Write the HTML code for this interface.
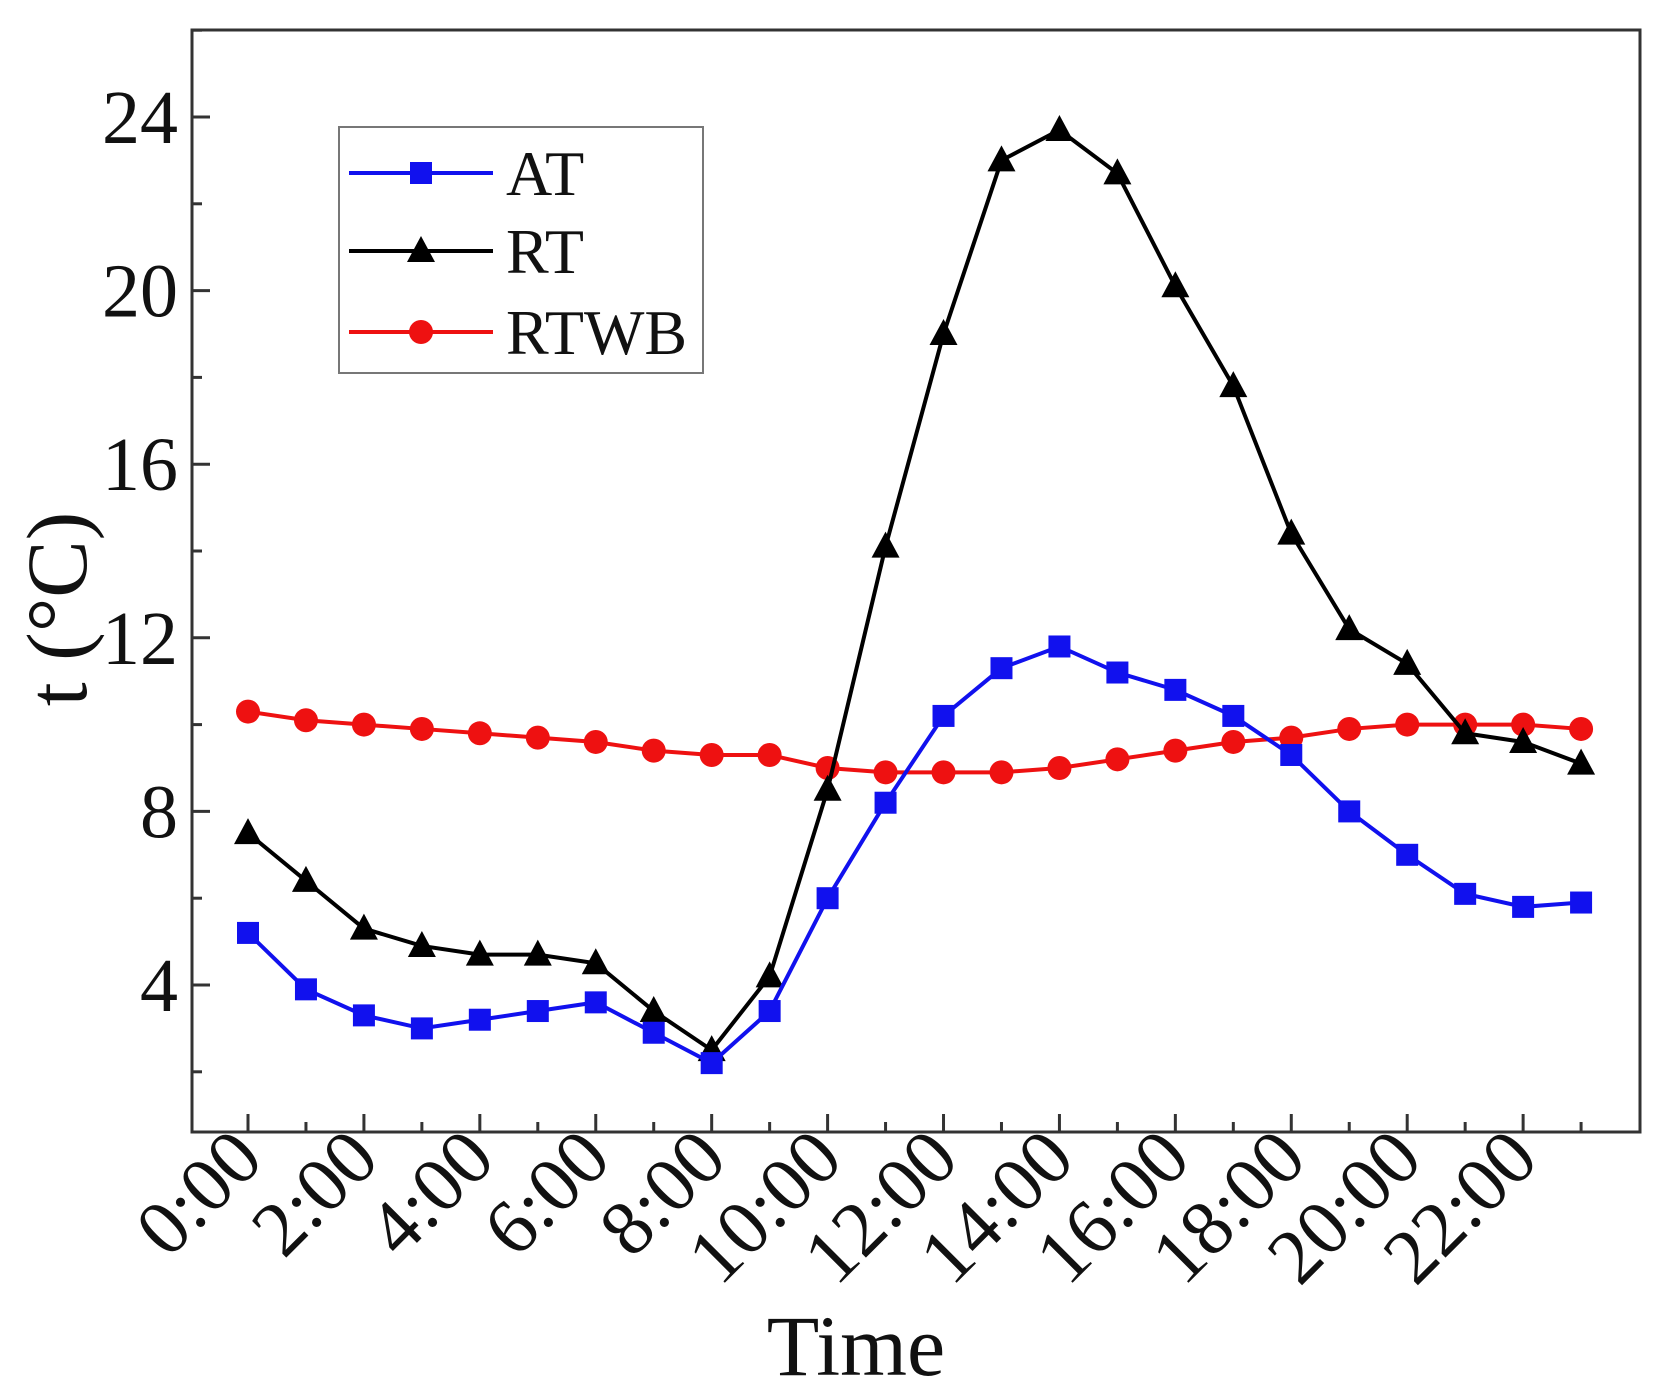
<!DOCTYPE html>
<html><head><meta charset="utf-8"><style>
html,body{margin:0;padding:0;background:#fff;}
svg{display:block;font-family:"Liberation Serif","Times New Roman",serif;}
</style></head><body>
<svg id="chart" width="1676" height="1400" viewBox="0 0 1676 1400">
<rect x="192" y="30" width="1448" height="1102" fill="#fff" stroke="#333" stroke-width="3"/>
<g id="axes"></g>
<g id="series"></g>
<text x="856" y="1375" font-size="86" text-anchor="middle" fill="#111">Time</text>
<text transform="translate(86,609) rotate(-90)" font-size="86" text-anchor="middle" fill="#111">t (°C)</text>
<g>
<rect x="339" y="127" width="364" height="246" fill="#fff" stroke="#777" stroke-width="2"/>
<g id="legend"></g>
</g>
</svg>
<script>
const hours = ["0:00","1:00","2:00","3:00","4:00","5:00","6:00","7:00","8:00","9:00","10:00","11:00","12:00","13:00","14:00","15:00","16:00","17:00","18:00","19:00","20:00","21:00","22:00","23:00"];
const atValues = [5.2,3.9,3.3,3.0,3.2,3.4,3.6,2.9,2.2,3.4,6.0,8.2,10.2,11.3,11.8,11.2,10.8,10.2,9.3,8.0,7.0,6.1,5.8,5.9];
const rtValues = [7.5,6.4,5.3,4.9,4.7,4.7,4.5,3.4,2.5,4.2,8.5,14.1,19.0,23.0,23.7,22.7,20.1,17.8,14.4,12.2,11.4,9.8,9.6,9.1];
const rtwbValues = [10.3,10.1,10.0,9.9,9.8,9.7,9.6,9.4,9.3,9.3,9.0,8.9,8.9,8.9,9.0,9.2,9.4,9.6,9.7,9.9,10.0,10.0,10.0,9.9];
const yTicks = [4,8,12,16,20,24];
const seriesNames = ["AT","RT","RTWB"];

const NS="http://www.w3.org/2000/svg";
function xs(i){return 248+i*57.96;}
function ys(v){return 117+(24-v)*43.4;}
function mk(tag,attrs,parent){const e=document.createElementNS(NS,tag);for(const k in attrs)e.setAttribute(k,attrs[k]);parent.appendChild(e);return e;}
const axes=document.getElementById('axes');
for(let v=2;v<=26;v+=2){
  const major=v%4===0;
  const t=mk('line',{x1:192,x2:192+(major?18:10),y1:ys(v),y2:ys(v),stroke:'#333','stroke-width':3},axes);
  
  
}
yTicks.forEach(v=>{
  const t=mk('text',{x:178,y:ys(v)+26,'font-size':76,'text-anchor':'end',fill:'#111'},axes);
  t.textContent=String(v);
  
  
});
hours.forEach((h,i)=>{
  const major=i%2===0;
  const t=mk('line',{x1:xs(i),x2:xs(i),y1:1132,y2:1132-(major?18:10),stroke:'#333','stroke-width':3},axes);
  
  
  if(major){
    const l=mk('text',{transform:`translate(${xs(i)+18},${1162}) rotate(-45)`,'font-size':78,'text-anchor':'end',fill:'#111'},axes);
    l.textContent=h;
    
    
  }
});
const ser=document.getElementById('series');
function marker(type,x,y,color,g){
  let e;
  if(type==='square') e=mk('rect',{x:x-11,y:y-11,width:22,height:22,fill:color},g);
  else if(type==='tri') e=mk('polygon',{points:`${x},${y-15} ${x-14},${y+11} ${x+14},${y+11}`,fill:color},g);
  else e=mk('circle',{cx:x,cy:y,r:12,fill:color},g);
  return e;
}
function drawSeries(vals,color,type,name){
  const g=mk('g',{},ser);
  
  
  const p=mk('polyline',{points:vals.map((v,i)=>xs(i)+','+ys(v)).join(' '),fill:'none',stroke:color,'stroke-width':4},g);
  
  
  vals.forEach((v,i)=>{
    const m=marker(type,xs(i),ys(v),color,g);
    
    
  });
}
drawSeries(rtwbValues,'#ee1111','circle','rtwb');
drawSeries(rtValues,'#000','tri','rt');
drawSeries(atValues,'#1111ee','square','at');
const leg=document.getElementById('legend');
const legY=[173,251,332],legC=['#1111ee','#000','#ee1111'],legT=['square','tri','circle'];
seriesNames.forEach((n,k)=>{
  const l=mk('line',{x1:349,x2:493,y1:legY[k],y2:legY[k],stroke:legC[k],'stroke-width':4},leg);
  
  
  const m=marker(legT[k],421,legY[k],legC[k],leg);
  
  
  const t=mk('text',{x:506,y:legY[k]+22,'font-size':64,fill:'#111'},leg);
  t.textContent=n;
  
  
});
</script>
</body></html>
